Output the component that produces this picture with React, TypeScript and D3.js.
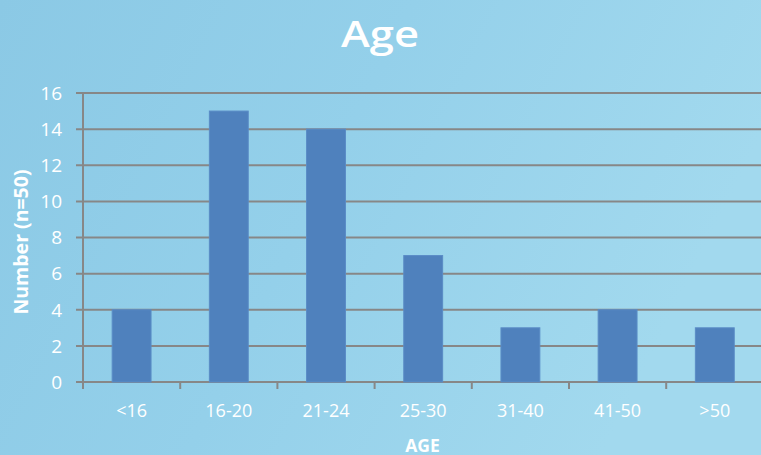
import React from "react";
import * as d3 from "d3";

const categories = ["<16", "16-20", "21-24", "25-30", "31-40", "41-50", ">50"];
const values = [4, 15, 14, 7, 3, 4, 3];
const yTicks = [0, 2, 4, 6, 8, 10, 12, 14, 16];

const W = 761;
const H = 455;
const left = 83;
const right = 763.4;
const top = 93;
const bottom = 382;
const FONT = "'Open Sans', sans-serif";

export default function App() {
  const x = d3.scaleBand<string>().domain(categories).range([left, right]).padding(0);
  const y = d3.scaleLinear().domain([0, 16]).range([bottom, top]);
  const bw = x.bandwidth() * 0.4;
  return (
    <svg width={W} height={H} style={{ position: "absolute", left: 0, top: 0, display: "block" }}>
      <defs>
        <linearGradient id="bg" x1="0" y1="0" x2="1" y2="0.3">
          <stop offset="0" stopColor="#8bc9e5" />
          <stop offset="0.5" stopColor="#94d0ea" />
          <stop offset="1" stopColor="#a2d9ee" />
        </linearGradient>
      </defs>
      <rect x={0} y={0} width={W} height={H} fill="url(#bg)" />
      <text x={380} y={47} textAnchor="middle" fill="#fff" fontFamily={FONT} fontWeight={600} fontSize={36} textLength={78} lengthAdjust="spacingAndGlyphs">Age</text>
      {yTicks.map((t) => (
        <g key={t}>
          <line x1={left - 7} x2={right} y1={y(t)} y2={y(t)} stroke="#878787" strokeWidth={2} />
          <text x={62} y={y(t)} dy="0.36em" textAnchor="end" fill="#fff" fontFamily={FONT} fontSize={19}>{t}</text>
        </g>
      ))}
      <line x1={left} x2={left} y1={top} y2={bottom + 7} stroke="#878787" strokeWidth={2} />
      {categories.map((c, i) => (
        <g key={c}>
          <line x1={x(c)!} x2={x(c)!} y1={bottom} y2={bottom + 7} stroke="#878787" strokeWidth={2} />
          <rect x={x(c)! + (x.bandwidth() - bw) / 2} y={y(values[i])} width={bw} height={bottom - y(values[i])} fill="#4f81bd" stroke="#5a8cc6" strokeWidth={1} />
          <text x={x(c)! + x.bandwidth() / 2} y={417} textAnchor="middle" fill="#fff" fontFamily={FONT} fontSize={18}>{c}</text>
        </g>
      ))}
      <text x={422.5} y={451.5} textAnchor="middle" fill="#fff" fontFamily={FONT} fontWeight="bold" fontSize={17.5}>AGE</text>
      <text transform={`translate(28,242) rotate(-90)`} textAnchor="middle" fill="#fff" fontFamily={FONT} fontWeight="bold" fontSize={19.5}>Number (n=50)</text>
    </svg>
  );
}
